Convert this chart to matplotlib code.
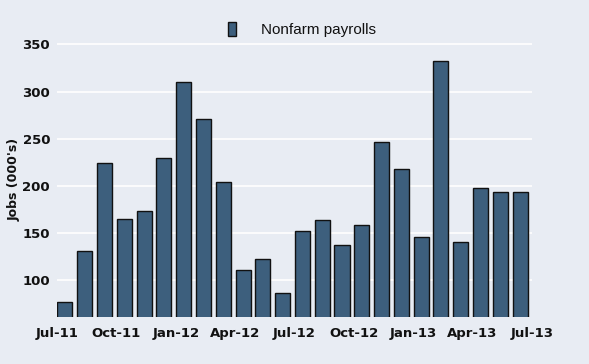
import matplotlib
matplotlib.use('Agg')
import matplotlib.pyplot as plt
import numpy as np

# Monthly nonfarm payroll changes, Jul-11 .. Jun-13 (thousands)
months = ['Jul-11', 'Aug-11', 'Sep-11', 'Oct-11', 'Nov-11', 'Dec-11',
          'Jan-12', 'Feb-12', 'Mar-12', 'Apr-12', 'May-12', 'Jun-12',
          'Jul-12', 'Aug-12', 'Sep-12', 'Oct-12', 'Nov-12', 'Dec-12',
          'Jan-13', 'Feb-13', 'Mar-13', 'Apr-13', 'May-13', 'Jun-13']
payrolls = [77, 131, 224, 165, 173, 230,
            310, 271, 204, 111, 123, 86,
            152, 164, 137, 159, 246, 218,
            146, 332, 141, 198, 194, 194]
tick_labels = ['Jul-11', 'Oct-11', 'Jan-12', 'Apr-12', 'Jul-12',
               'Oct-12', 'Jan-13', 'Apr-13', 'Jul-13']
y_ticks = [100, 150, 200, 250, 300, 350]

BG = '#e8ecf3'
BAR = '#3d5f7d'

fig = plt.figure(figsize=(5.89, 3.64), dpi=100, facecolor=BG)
ax = fig.add_axes([57 / 589, 1 - 317 / 364, 475 / 589, (317 - 42) / 364])
ax.set_facecolor(BG)

x = np.arange(len(payrolls))
ax.bar(x + 0.02, payrolls, width=0.76, align='edge', color=BAR,
       edgecolor='#111111', linewidth=1.0, label='Nonfarm payrolls', zorder=3)

ax.set_xlim(0, 24)
ax.set_ylim(61, 352.5)
ax.set_yticks(y_ticks)
ax.set_xticks(np.arange(0, 25, 3))
ax.set_xticklabels(tick_labels)
ax.grid(axis='y', color='white', linewidth=1.2, zorder=0)
for s in ax.spines.values():
    s.set_visible(False)
ax.tick_params(length=0, colors='#111111', labelsize=9.5)
ax.tick_params(axis='x', pad=7)
ax.tick_params(axis='y', pad=5)
for lab in ax.get_xticklabels() + ax.get_yticklabels():
    lab.set_fontweight('bold')

ax.set_ylabel("Jobs (000's)", fontsize=9, fontweight='bold', color='#111111')
ax.yaxis.set_label_coords(-0.077, 0.5)

leg = ax.legend(loc='center', bbox_to_anchor=(0.515, 1.045), frameon=False,
                handlelength=0.55, handleheight=1.0, handletextpad=1.6,
                prop={'family': 'Liberation Sans', 'size': 11})
for t in leg.get_texts():
    t.set_color('#111111')

fig.savefig('out.png', dpi=100, facecolor=BG)
